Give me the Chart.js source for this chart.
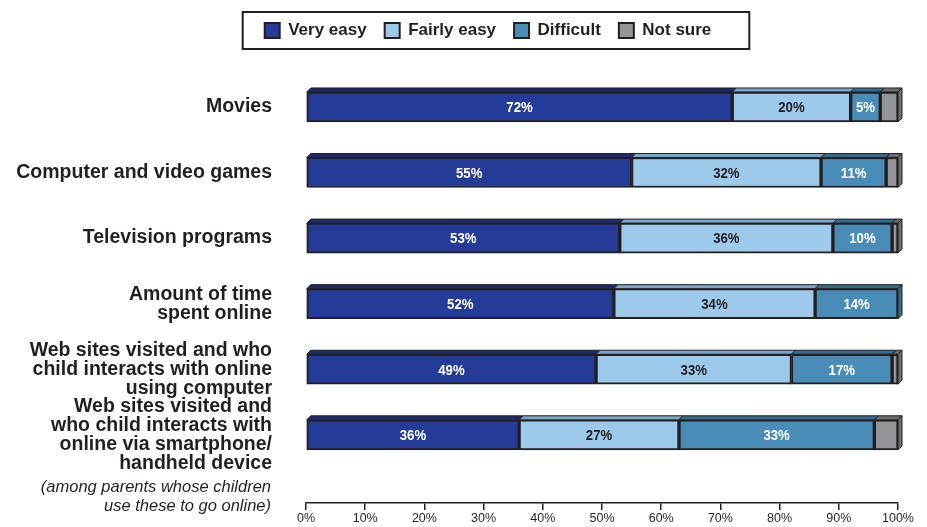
<!DOCTYPE html>
<html>
<head>
<meta charset="utf-8">
<script src="https://cdn.jsdelivr.net/npm/chart.js@4/dist/chart.umd.min.js"></script>
<style>
  html, body { margin: 0; padding: 0; background: #fff; }
  #wrap { width: 927px; height: 527px; position: relative; }
</style>
</head>
<body>
<div id="wrap"><canvas id="chart"></canvas></div>
<script>
// Chart data
const categories = [
  ['Movies'],
  ['Computer and video games'],
  ['Television programs'],
  ['Amount of time', 'spent online'],
  ['Web sites visited and who', 'child interacts with online', 'using computer'],
  ['Web sites visited and', 'who child interacts with', 'online via smartphone/', 'handheld device']
];
const noteLines = ['(among parents whose children', 'use these to go online)'];
const seriesNames = ['Very easy', 'Fairly easy', 'Difficult', 'Not sure'];
const veryEasy = [72, 55, 53, 52, 49, 36];
const fairlyEasy = [20, 32, 36, 34, 33, 27];
const difficult = [5, 11, 10, 14, 17, 33];
const notSure = [3, 2, 1, 0, 1, 4];

// Styles
const fillColors = ['#243c98', '#9dc9ea', '#4a8cb8', '#939598'];
const topColors = ['#1b2a6a', '#79a8cc', '#356b8f', '#6b6d70'];
const labelColors = ['#ffffff', '#231f20', '#ffffff', null];
const ink = '#231f20';
const depth = 4;

const seriesValues = [veryEasy, fairlyEasy, difficult, notSure];

// 3D faces, value labels, legend frame and the italic note
const decorPlugin = {
  id: 'decor',
  afterLayout(chart) {
    // legend sits a little right of centre in the original
    const lg = chart.legend;
    lg.left += 39;
    lg.right += 39;
  },
  afterDatasetsDraw(chart) {
    const ctx = chart.ctx;
    const metas = chart.data.datasets.map((d, i) => chart.getDatasetMeta(i));
    ctx.save();
    ctx.lineWidth = 1;
    ctx.strokeStyle = ink;
    categories.forEach((c, row) => {
      let last = null;
      metas.forEach((meta, di) => {
        const el = meta.data[row];
        const p = el.getProps(['x', 'base', 'y', 'height'], true);
        if (Math.abs(p.x - p.base) < 0.5) return;
        const top = p.y - p.height / 2;
        ctx.beginPath();
        ctx.moveTo(p.base, top);
        ctx.lineTo(p.base + depth, top - depth);
        ctx.lineTo(p.x + depth, top - depth);
        ctx.lineTo(p.x, top);
        ctx.closePath();
        ctx.fillStyle = topColors[di];
        ctx.fill();
        ctx.stroke();
        last = { p, di };
      });
      if (last) {
        const p = last.p;
        const top = p.y - p.height / 2;
        const bottom = p.y + p.height / 2;
        ctx.beginPath();
        ctx.moveTo(p.x, top);
        ctx.lineTo(p.x + depth, top - depth);
        ctx.lineTo(p.x + depth, bottom - depth);
        ctx.lineTo(p.x, bottom);
        ctx.closePath();
        ctx.fillStyle = topColors[last.di];
        ctx.fill();
        ctx.stroke();
      }
    });

    // value labels, squeezed a bit like the narrow face of the original
    ctx.font = "bold 15.5px 'Liberation Sans', Arial, sans-serif";
    ctx.textAlign = 'center';
    ctx.textBaseline = 'middle';
    metas.forEach((meta, di) => {
      if (!labelColors[di]) return;
      meta.data.forEach((el, row) => {
        const v = seriesValues[di][row];
        if (!v) return;
        const p = el.getProps(['x', 'base', 'y'], true);
        ctx.save();
        ctx.translate((p.x + p.base) / 2, p.y + 1);
        ctx.scale(0.85, 1);
        ctx.fillStyle = labelColors[di];
        ctx.fillText(v + '%', 0, 0);
        ctx.restore();
      });
    });
    ctx.restore();
  },
  afterDraw(chart) {
    const ctx = chart.ctx;
    const lg = chart.legend;
    const pad = lg.options.labels.padding;
    const contentLeft = (lg.left + pad + lg.right - lg.lineWidths[0]) / 2;
    const itemTop = lg.top + pad;
    ctx.save();
    ctx.strokeStyle = ink;
    ctx.lineWidth = 2;
    ctx.strokeRect(contentLeft - 22, itemTop - 10, lg.lineWidths[0] + 42, 37);

    // italic note under the last category label
    const yScale = chart.scales.y;
    const yLast = yScale.getPixelForValue(categories.length - 1);
    ctx.font = "italic 16.5px 'Liberation Sans', Arial, sans-serif";
    ctx.fillStyle = ink;
    ctx.textAlign = 'right';
    ctx.textBaseline = 'middle';
    noteLines.forEach((t, i) => {
      ctx.fillText(t, chart.chartArea.left - 35, yLast + 53 + i * 19);
    });
    ctx.restore();
  }
};

const ctx = document.getElementById('chart').getContext('2d');
new Chart(ctx, {
  type: 'bar',
  data: {
    datasets: seriesValues.map((vals, i) => ({
      label: seriesNames[i],
      data: vals.map((v, row) => ({ x: v, y: row })),
      backgroundColor: fillColors[i],
      borderColor: ink,
      borderWidth: 2,
      borderSkipped: false,
      barThickness: 30
    }))
  },
  options: {
    indexAxis: 'y',
    responsive: true,
    maintainAspectRatio: false,
    animation: false,
    layout: { padding: { top: 4, right: 29, bottom: 0, left: 0 } },
    scales: {
      x: {
        stacked: true,
        min: 0,
        max: 100,
        ticks: {
          stepSize: 10,
          padding: 1,
          color: ink,
          font: { family: "'Liberation Sans', Arial, sans-serif", size: 12.5 },
          callback: v => v + '%'
        },
        grid: { drawOnChartArea: false, drawTicks: true, tickLength: 7, color: ink, lineWidth: 1.5 },
        border: { display: true, color: ink, width: 1.5 }
      },
      y: {
        type: 'linear',
        stacked: true,
        reverse: true,
        offset: false,
        min: -0.884,
        max: 6.04,
        afterBuildTicks: s => { s.ticks = categories.map((c, i) => ({ value: i })); },
        afterFit: s => {
          s.width = 306;
          s.paddingTop = 0;
          s.paddingBottom = 0;
        },
        ticks: {
          autoSkip: false,
          padding: 34,
          color: ink,
          font: { family: "'Liberation Sans', Arial, sans-serif", size: 19.5, weight: 'bold', lineHeight: 0.975 },
          callback: v => categories[v] || ''
        },
        grid: { display: false, drawTicks: false },
        border: { display: false }
      }
    },
    plugins: {
      legend: {
        position: 'top',
        labels: {
          boxWidth: 15,
          boxHeight: 15,
          padding: 18,
          color: ink,
          font: { family: "'Liberation Sans', Arial, sans-serif", size: 17, weight: 'bold' }
        }
      },
      tooltip: { enabled: false }
    }
  },
  plugins: [decorPlugin]
});
</script>
</body>
</html>
